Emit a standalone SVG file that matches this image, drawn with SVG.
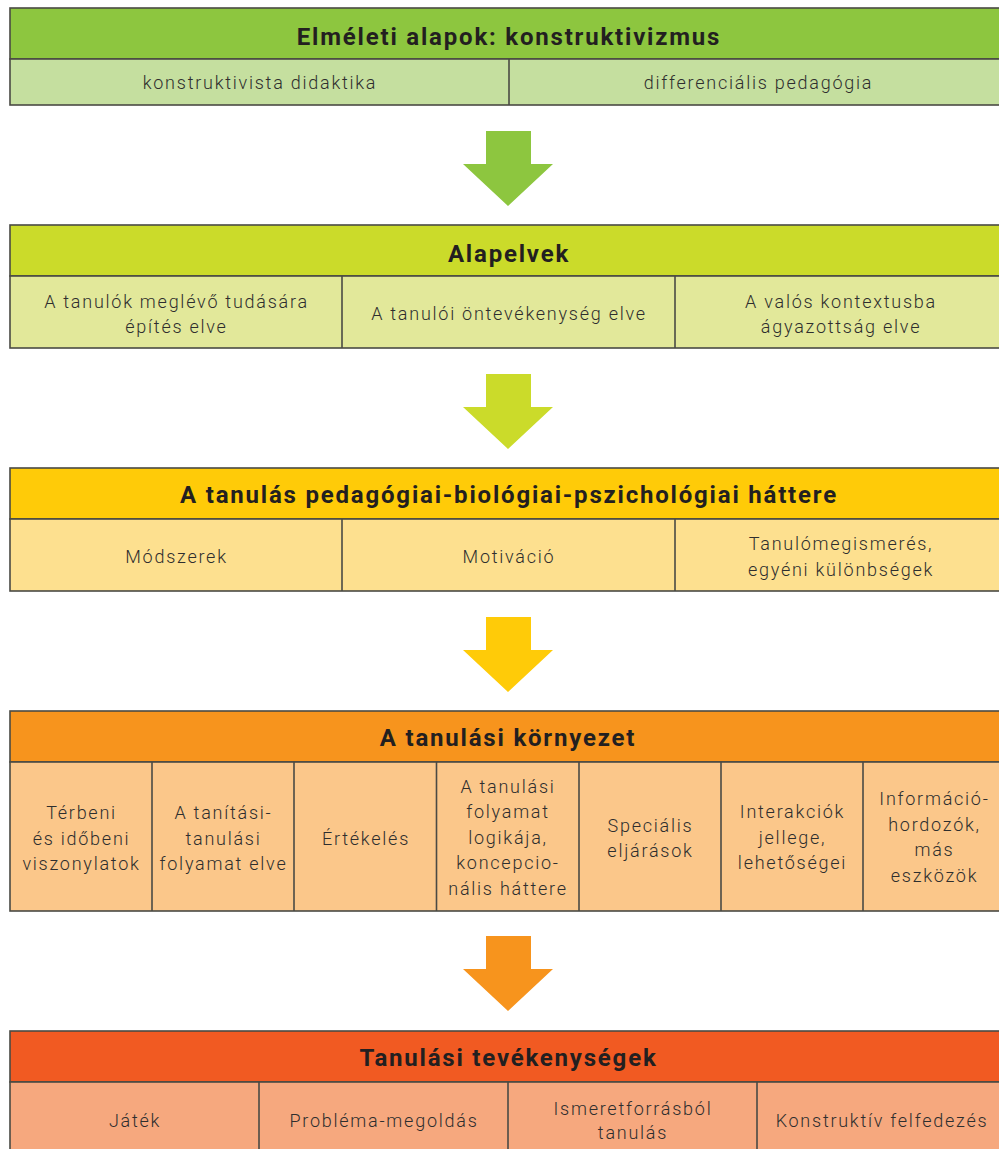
<svg xmlns="http://www.w3.org/2000/svg" width="999" height="1149" viewBox="0 0 999 1149">
<style>
.box{stroke:#4a4a44;stroke-width:1.6}
.div{stroke:#4a4a44;stroke-width:1.6}
.t{font-family:Roboto,"DejaVu Sans",sans-serif;font-weight:bold;font-size:24px;fill:#231f20;text-anchor:middle;letter-spacing:1.8px}
.s{font-family:Roboto,"DejaVu Sans",sans-serif;font-weight:300;font-size:18px;fill:#2e2e2e;text-anchor:middle;letter-spacing:1.75px}
</style>
<rect width="999" height="1149" fill="#ffffff"/>

<g id="connectors">
<polygon points="486,131 531,131 531,164 553,164 508,206 463,164 486,164" fill="#8dc63f"/>
<polygon points="486,374 531,374 531,407 553,407 508,449 463,407 486,407" fill="#cbdb2a"/>
<polygon points="486,617 531,617 531,650 553,650 508,692 463,650 486,650" fill="#ffcb08"/>
<polygon points="486,936 531,936 531,969 553,969 508,1011 463,969 486,969" fill="#f7941d"/>
</g>

<g id="sec1">
<rect class="box" x="10" y="8" width="1000" height="51" fill="#8dc63f"/>
<rect class="box" x="10" y="59" width="1000" height="46" fill="#c5df9f"/>
<line class="div" x1="509" y1="59" x2="509" y2="105"/>
<text class="t" x="509" y="45">Elméleti alapok: konstruktivizmus</text>
<g id="n1a"><text class="s" x="260" y="89">konstruktivista didaktika</text></g>
<g id="n1b"><text class="s" x="758.5" y="89">differenciális pedagógia</text></g>
</g>

<g id="sec2">
<rect class="box" x="10" y="225" width="1000" height="51" fill="#cbdb2a"/>
<rect class="box" x="10" y="276" width="1000" height="72" fill="#e2e89a"/>
<line class="div" x1="342" y1="276" x2="342" y2="348"/>
<line class="div" x1="675" y1="276" x2="675" y2="348"/>
<text class="t" x="509" y="262">Alapelvek</text>
<g id="n2a"><text class="s" x="176.5" y="308">A tanulók meglévő tudására</text><text class="s" x="176.5" y="333">építés elve</text></g>
<g id="n2b"><text class="s" x="509" y="320">A tanulói öntevékenység elve</text></g>
<g id="n2c"><text class="s" x="841" y="308">A valós kontextusba</text><text class="s" x="841" y="333">ágyazottság elve</text></g>
</g>

<g id="sec3">
<rect class="box" x="10" y="468" width="1000" height="51" fill="#ffcb08"/>
<rect class="box" x="10" y="519" width="1000" height="72" fill="#fde08f"/>
<line class="div" x1="342" y1="519" x2="342" y2="591"/>
<line class="div" x1="675" y1="519" x2="675" y2="591"/>
<text class="t" x="509" y="503">A tanulás pedagógiai-biológiai-pszichológiai háttere</text>
<g id="n3a"><text class="s" x="176.5" y="563">Módszerek</text></g>
<g id="n3b"><text class="s" x="509" y="563">Motiváció</text></g>
<g id="n3c"><text class="s" x="841" y="550">Tanulómegismerés,</text><text class="s" x="841" y="576">egyéni különbségek</text></g>
</g>

<g id="sec4">
<rect class="box" x="10" y="711" width="1000" height="51" fill="#f7941d"/>
<rect class="box" x="10" y="762" width="1000" height="149" fill="#fbc78a"/>
<line class="div" x1="152" y1="762" x2="152" y2="911"/>
<line class="div" x1="294" y1="762" x2="294" y2="911"/>
<line class="div" x1="436.5" y1="762" x2="436.5" y2="911"/>
<line class="div" x1="579" y1="762" x2="579" y2="911"/>
<line class="div" x1="721" y1="762" x2="721" y2="911"/>
<line class="div" x1="863" y1="762" x2="863" y2="911"/>
<text class="t" x="508" y="746">A tanulási környezet</text>
<g id="n4a"><text class="s" x="81.5" y="819">Térbeni</text><text class="s" x="81.5" y="845">és időbeni</text><text class="s" x="81.5" y="870">viszonylatok</text></g>
<g id="n4b"><text class="s" x="223.5" y="819">A tanítási-</text><text class="s" x="223.5" y="845">tanulási</text><text class="s" x="223.5" y="870">folyamat elve</text></g>
<g id="n4c"><text class="s" x="366" y="845">Értékelés</text></g>
<g id="n4d"><text class="s" x="508" y="793">A tanulási</text><text class="s" x="508" y="818">folyamat</text><text class="s" x="508" y="844">logikája,</text><text class="s" x="508" y="869">koncepcio-</text><text class="s" x="508" y="895">nális háttere</text></g>
<g id="n4e"><text class="s" x="650.5" y="832">Speciális</text><text class="s" x="650.5" y="857">eljárások</text></g>
<g id="n4f"><text class="s" x="792.5" y="818">Interakciók</text><text class="s" x="792.5" y="844">jellege,</text><text class="s" x="792.5" y="869">lehetőségei</text></g>
<g id="n4g"><text class="s" x="934.5" y="805">Információ-</text><text class="s" x="934.5" y="831">hordozók,</text><text class="s" x="934.5" y="856">más</text><text class="s" x="934.5" y="882">eszközök</text></g>
</g>

<g id="sec5">
<rect class="box" x="10" y="1031" width="1000" height="51" fill="#f15a22"/>
<rect class="box" x="10" y="1082" width="1000" height="80" fill="#f6a87e"/>
<line class="div" x1="259" y1="1082" x2="259" y2="1160"/>
<line class="div" x1="508" y1="1082" x2="508" y2="1160"/>
<line class="div" x1="757" y1="1082" x2="757" y2="1160"/>
<text class="t" x="508.5" y="1066">Tanulási tevékenységek</text>
<g id="n5a"><text class="s" x="135" y="1127">Játék</text></g>
<g id="n5b"><text class="s" x="384" y="1127">Probléma-megoldás</text></g>
<g id="n5c"><text class="s" x="633" y="1115">Ismeretforrásból</text><text class="s" x="633" y="1139">tanulás</text></g>
<g id="n5d"><text class="s" x="882" y="1127">Konstruktív felfedezés</text></g>
</g>
</svg>
